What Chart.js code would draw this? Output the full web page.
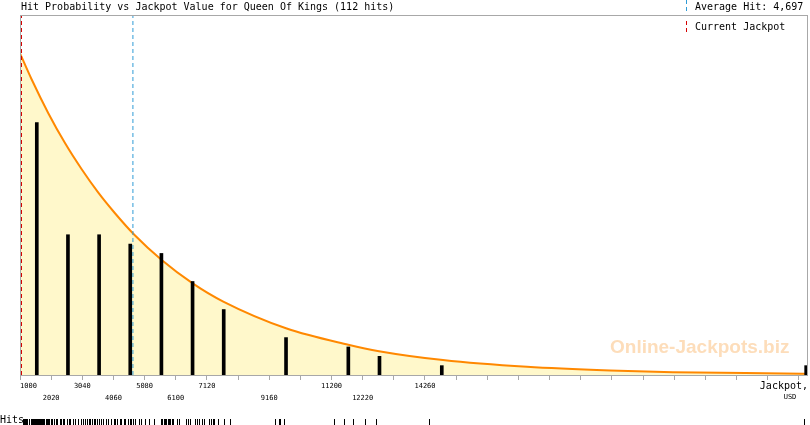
<!DOCTYPE html>
<html><head><meta charset="utf-8">
<script src="https://cdn.jsdelivr.net/npm/chart.js@4.4.1/dist/chart.umd.min.js"></script>
<style>html,body{margin:0;padding:0;background:#fff;}#wrap{width:810px;height:425px;position:relative}</style>
</head><body><div id="wrap"><canvas id="c" width="810" height="425"></canvas></div>
<script>
const chartTitle = 'Hit Probability vs Jackpot Value for Queen Of Kings (112 hits)';
const legendAverage = 'Average Hit: 4,697';
const legendCurrent = 'Current Jackpot';
const axisTitle = 'Jackpot,';
const axisUnit = 'USD';
const rugLabel = 'Hits';
const watermark = 'Online-Jackpots.biz';

// labelled tick values (bins that contain hits)
const binStarts = [1000, 2020, 3040, 4060, 5080, 6100, 7120, 9160, 11200, 12220, 14260];
// histogram bars: position (USD) and number of hits
const barPositions = [1550, 2570, 3590, 4610, 5630, 6650, 7670, 9710, 11750, 12770, 14810, 26740];
const hitCounts = [27, 15, 15, 14, 13, 10, 7, 4, 3, 2, 1, 1];
// probability curve (in hits per bin)
const curveX = [1000, 1383, 1927, 2473, 3020, 3564, 4110, 4742, 5639, 6654, 7656, 9732, 11748, 12753, 14849, 17599, 20317, 22379, 26636, 26800];
const curveY = [34.4, 31.6, 28.0, 24.8, 22.0, 19.5, 17.3, 15.0, 12.3, 9.8, 7.85, 4.97, 3.24, 2.55, 1.6, 0.87, 0.47, 0.29, 0.14, 0.13];
// individual hits (rug)
const hitValues = [
  1105,1130,1180,1210,1245,1290,1310,1355,1390,1420,1445,1490,1515,1560,1590,1625,1660,1700,1735,1760,1800,1845,1870,1905,1930,1965,2005,
  2045,2100,2180,2225,2300,2345,2410,2455,2530,2590,2650,2720,2800,2890,2985,
  3070,3120,3190,3250,3300,3350,3420,3470,3530,3600,3660,3720,3800,3890,3990,
  4080,4110,4180,4270,4300,4400,4450,4530,4600,4640,4700,4760,4890,4960,
  5090,5220,5380,5610,5650,5700,5740,5790,5830,5880,5920,5970,6010,
  6130,6200,6430,6500,6560,6720,6780,6850,6950,7020,
  7180,7250,7310,7350,7480,7670,7870,
  9340,9470,9510,9660,
  11290,11620,11910,
  12290,12670,
  14380,
  26680
];
const averageHit = 4697;
const currentJackpot = 1049;
const tickStep = 1020;
const axisMin = 1000;
const axisMax = 26800;
const yMax = 38.5;

const MONO = 'DejaVu Sans Mono';
const BLUE = '#2F9BD6';
const RED = '#D40000';

function dashV(ctx, x, y0, y1, color) {
  ctx.fillStyle = color;
  for (let y = y0; y < y1; y += 7) ctx.fillRect(x, y, 1, Math.min(4, y1 - y));
}

const decor = {
  id: 'decor',
  beforeDatasetsDraw(chart) {
    const ctx = chart.ctx;
    ctx.save();
    ctx.font = 'bold 19px "Liberation Sans", Arial, sans-serif';
    ctx.fillStyle = '#FDDDBA';
    ctx.textBaseline = 'alphabetic';
    ctx.textAlign = 'left';
    ctx.fillText(watermark, 610, 353);
    ctx.restore();
  },
  afterDatasetsDraw(chart) {
    const ctx = chart.ctx, a = chart.chartArea;
    ctx.save();
    ctx.strokeStyle = '#A8A8A8';
    ctx.lineWidth = 1;
    ctx.strokeRect(a.left + 0.5, a.top + 0.5, a.right - a.left - 1, a.bottom - a.top);
    ctx.restore();
  },
  afterDraw(chart) {
    const ctx = chart.ctx, x = chart.scales.x;
    ctx.save();
    // legend markers
    dashV(ctx, 686, 0, 12, BLUE);
    dashV(ctx, 686, 21, 33, RED);
    // title & legend
    ctx.fillStyle = '#000';
    ctx.font = '10px "' + MONO + '"';
    ctx.textBaseline = 'middle';
    ctx.textAlign = 'left';
    ctx.fillText(chartTitle, 21, 7.5);
    ctx.fillText(legendAverage, 695, 7.5);
    ctx.fillText(legendCurrent, 695, 27.5);
    // axis title
    ctx.textAlign = 'right';
    ctx.fillText(axisTitle, 808, 386.5);
    ctx.font = '7px "' + MONO + '"';
    ctx.textAlign = 'center';
    ctx.fillText(axisUnit, 790, 397.5);
    // rug
    ctx.font = '10px "' + MONO + '"';
    ctx.textAlign = 'left';
    ctx.fillText(rugLabel, 0, 420.5);
    ctx.fillStyle = '#000';
    hitValues.forEach(v => {
      ctx.fillRect(Math.round(x.getPixelForValue(v)), 419, 1, 6);
    });
    ctx.restore();
  }
};

const shownRow = {};
binStarts.forEach((v, i) => { shownRow[v] = i % 2; });

new Chart(document.getElementById('c'), {
  type: 'bar',
  data: {
    datasets: [
      {
        type: 'line',
        data: [{ x: averageHit, y: 0 }, { x: averageHit, y: yMax }],
        borderColor: BLUE,
        borderWidth: 1,
        borderDash: [4, 3],
        pointRadius: 0,
        fill: false,
        order: 0
      },
      {
        type: 'line',
        data: [{ x: currentJackpot, y: 0 }, { x: currentJackpot, y: yMax }],
        borderColor: RED,
        borderWidth: 1,
        borderDash: [4, 3],
        pointRadius: 0,
        fill: false,
        order: 0
      },
      {
        type: 'bar',
        data: barPositions.map((p, i) => ({ x: p, y: hitCounts[i] })),
        backgroundColor: '#000',
        borderWidth: 0,
        barThickness: 3,
        order: 1
      },
      {
        type: 'line',
        data: curveX.map((p, i) => ({ x: p, y: curveY[i] })),
        borderColor: '#FF8800',
        borderWidth: 2,
        backgroundColor: '#FFF8CB',
        fill: 'origin',
        pointRadius: 0,
        cubicInterpolationMode: 'monotone',
        order: 2
      }
    ]
  },
  options: {
    responsive: false,
    devicePixelRatio: 1,
    animation: false,
    events: [],
    layout: { autoPadding: false, padding: { left: 20, right: 2, top: 15, bottom: 0 } },
    plugins: { legend: { display: false }, tooltip: { enabled: false }, title: { display: false } },
    scales: {
      x: {
        type: 'linear',
        min: axisMin,
        max: axisMax,
        offset: false,
        border: { display: false },
        grid: { display: true, drawOnChartArea: false, drawTicks: true, tickLength: 5, color: '#A8A8A8', offset: false },
        afterBuildTicks(scale) {
          const t = [];
          for (let v = axisMin; v <= axisMax; v += tickStep) t.push({ value: v });
          scale.ticks = t;
        },
        afterFit(scale) { scale.height = 50; },
        ticks: {
          autoSkip: false,
          maxRotation: 0,
          minRotation: 0,
          padding: 0,
          color: '#000',
          font: { family: MONO, size: 7, lineHeight: '12px' },
          callback(value) {
            if (!(value in shownRow)) return '';
            const lbl = (value === binStarts[0] ? '    ' : '') + String(value);
            return shownRow[value] === 0 ? [lbl, ''] : ['', lbl];
          }
        }
      },
      y: {
        display: false,
        min: 0,
        max: yMax
      }
    }
  },
  plugins: [decor]
});
</script>
</body></html>
